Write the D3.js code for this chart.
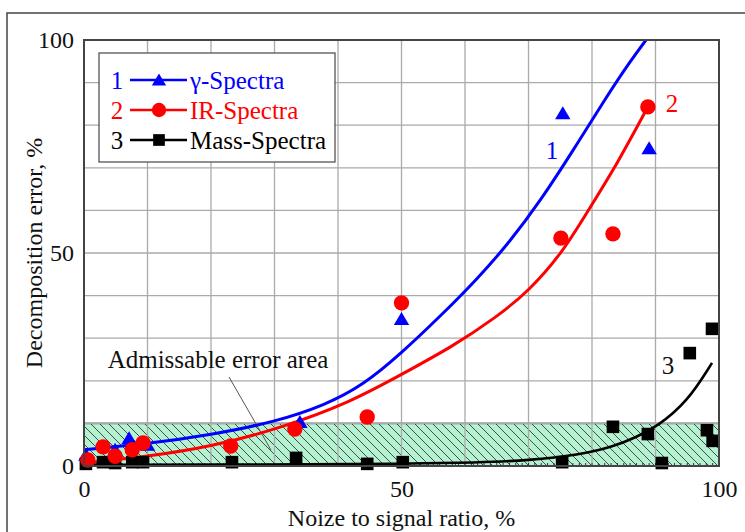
<!DOCTYPE html>
<html>
<head>
<meta charset="utf-8">
<script src="https://cdn.jsdelivr.net/npm/d3@7"></script>
<style>
  body { margin: 0; background: #fff; }
  text { font-family: "Liberation Serif", "Times New Roman", serif; }
</style>
</head>
<body>
<div id="chart"></div>
<script>
// scatter points: [noise %, error %]
var gammaPoints = [[0.3, 2.6], [4.9, 3.8], [7.1, 6.5], [10, 5], [34, 10.3], [50, 34.5], [75.4, 82.8], [89, 74.6]];
var irPoints = [[0.6, 1.4], [3, 4.5], [4.9, 2.3], [7.6, 3.8], [9.3, 5.4], [23.1, 4.7], [33.2, 8.7], [44.6, 11.5],
                [50, 38.3], [75.1, 53.5], [83.3, 54.5], [88.8, 84.3]];
var massPoints = [[0.3, 0.5], [3, 0.9], [4.9, 0.7], [7.6, 0.9], [9.3, 0.9], [23.3, 0.9], [33.4, 1.9], [44.6, 0.5],
                  [50.2, 0.9], [75.3, 0.9], [83.3, 9.2], [88.8, 7.5], [91, 0.7], [95.4, 26.5], [98.1, 8.4],
                  [99, 5.9], [98.9, 32.2]];

// fitted curves, traced point by point
var gammaCurve = [[0, 3.8], [10, 5.2], [20, 7.3], [30, 10.3], [38, 14.3], [44, 19], [50, 26.5], [56, 35],
                  [62, 44], [67, 52.5], [72, 62.5], [77, 74], [82, 86], [86, 95], [89, 101]];
var irCurve = [[0, 0.7], [10, 2.2], [20, 4.5], [31, 8.9], [42, 15], [50, 21.5], [58, 28], [65, 35], [70, 41],
               [75.3, 50], [79.4, 60], [84, 71], [88.8, 84.3]];
var massCurve = [[0, 0.3], [30, 0.3], [50, 0.5], [62, 0.8], [70, 1.3], [78, 2.6], [83.3, 4.5], [87, 6.8],
                 [90.2, 9.2], [95, 15], [98.9, 24.2]];

var xTicks = [0, 50, 100];
var yTicks = [0, 50, 100];
var admissableLimit = 10;

var legendItems = [
    {num: '1', name: '\u03b3-Spectra', color: '#0000ff', shape: 'triangle'},
    {num: '2', name: 'IR-Spectra', color: '#ff0000', shape: 'circle'},
    {num: '3', name: 'Mass-Spectra', color: '#000000', shape: 'square'}
];

var width = 745,
    height = 532,
    margin = {left: 84, right: 26, top: 40, bottom: 66},
    serif = '"Liberation Serif", "Times New Roman", serif';

var svg = d3.select('#chart')
    .append('svg')
    .attr('width', width)
    .attr('height', height);

// outer frame
svg.append('rect')
    .attr('x', 7).attr('y', 13)
    .attr('width', width + 10).attr('height', height + 10)
    .style('fill', 'none')
    .style('stroke', '#444')
    .style('stroke-width', 1.5);

var x = d3.scaleLinear().domain([0, 100]).range([margin.left, width - margin.right]);
var y = d3.scaleLinear().domain([0, 100]).range([height - margin.bottom, margin.top]);

// hatch pattern for the admissable area
var defs = svg.append('defs');
defs.append('pattern')
    .attr('id', 'hatch')
    .attr('patternUnits', 'userSpaceOnUse')
    .attr('width', 9).attr('height', 9)
  .append('path')
    .attr('d', 'M0,0L9,9M-3,6L3,12M6,-3L12,3')
    .style('stroke', '#3a3a3a')
    .style('stroke-width', 0.9);

svg.append('rect')
    .attr('x', x(0)).attr('y', y(admissableLimit))
    .attr('width', x(100) - x(0)).attr('height', y(0) - y(admissableLimit))
    .style('fill', '#b4f2d2');
svg.append('rect')
    .attr('x', x(0)).attr('y', y(admissableLimit))
    .attr('width', x(100) - x(0)).attr('height', y(0) - y(admissableLimit))
    .style('fill', 'url(#hatch)')
    .style('stroke', '#333')
    .style('stroke-width', 1.5);

// grid
var gridVals = d3.range(10, 100, 10);
svg.append('g').selectAll('line').data(gridVals).enter().append('line')
    .attr('x1', function (d) { return x(d); }).attr('x2', function (d) { return x(d); })
    .attr('y1', y(0)).attr('y2', y(100))
    .style('stroke', '#aaa').style('stroke-width', 1.3);
svg.append('g').selectAll('line').data(gridVals).enter().append('line')
    .attr('x1', x(0)).attr('x2', x(100))
    .attr('y1', function (d) { return y(d); }).attr('y2', function (d) { return y(d); })
    .style('stroke', '#aaa').style('stroke-width', 1.3);

// minor ticks along the bottom
svg.append('g').selectAll('line').data(d3.range(1, 100, 1)).enter().append('line')
    .attr('x1', function (d) { return x(d); }).attr('x2', function (d) { return x(d); })
    .attr('y1', y(0)).attr('y2', y(0) - 3)
    .style('stroke', '#333').style('stroke-width', 1);

// tick labels via d3 axes
var xAxis = svg.append('g')
    .attr('transform', 'translate(0,' + y(0) + ')')
    .call(d3.axisBottom(x).tickValues(xTicks).tickSize(0).tickPadding(14));
var yAxis = svg.append('g')
    .attr('transform', 'translate(' + x(0) + ',0)')
    .call(d3.axisLeft(y).tickValues(yTicks).tickSize(0).tickPadding(10));
[xAxis, yAxis].forEach(function (a) {
    a.attr('font-family', serif).attr('font-size', 24);
    a.select('.domain').remove();
    a.selectAll('text').style('fill', '#111');
});

svg.append('text')
    .attr('x', x(50)).attr('y', 526)
    .attr('text-anchor', 'middle')
    .style('font-size', '24px').style('fill', '#111')
    .text('Noize to signal ratio, %');
svg.append('text')
    .attr('transform', 'translate(42,' + y(50) + ') rotate(-90)')
    .attr('text-anchor', 'middle')
    .style('font-size', '24px').style('fill', '#111')
    .text('Decomposition error, %');

// annotation
svg.append('line')
    .attr('x1', 229).attr('y1', 377)
    .attr('x2', 271).attr('y2', 450)
    .style('stroke', '#555').style('stroke-width', 1);
svg.append('text')
    .attr('x', 218).attr('y', 368)
    .attr('text-anchor', 'middle')
    .style('font-size', '25px').style('fill', '#111')
    .text('Admissable error area');

// curves
var line = d3.line()
    .x(function (d) { return x(d[0]); })
    .y(function (d) { return y(d[1]); })
    .curve(d3.curveBasis);

var clip = defs.append('clipPath').attr('id', 'plotclip');
clip.append('rect')
    .attr('x', x(0)).attr('y', y(100))
    .attr('width', x(100) - x(0)).attr('height', y(0) - y(100));

var curves = svg.append('g').attr('clip-path', 'url(#plotclip)');
[[gammaCurve, '#0000ff', 3], [irCurve, '#ff0000', 3], [massCurve, '#000', 2.6]].forEach(function (c) {
    curves.append('path')
        .attr('d', line(c[0]))
        .style('fill', 'none')
        .style('stroke', c[1])
        .style('stroke-width', c[2]);
});

// markers
function marker(sel, shape, color, size) {
    if (shape === 'circle') {
        sel.append('circle').attr('r', size * 0.55).style('fill', color);
    } else if (shape === 'square') {
        sel.append('rect')
            .attr('x', -size * 0.45).attr('y', -size * 0.45)
            .attr('width', size * 0.9).attr('height', size * 0.9)
            .style('fill', color);
    } else {
        var h = size * 0.5;
        sel.append('path')
            .attr('d', 'M0,' + (-h) + 'L' + h * 1.1 + ',' + h * 0.85 + 'L' + (-h * 1.1) + ',' + h * 0.85 + 'Z')
            .style('fill', color);
    }
}

var markers = svg.append('g');
[[massPoints, 'square', '#000'], [gammaPoints, 'triangle', '#0000ff'], [irPoints, 'circle', '#ff0000']].forEach(function (s) {
    markers.selectAll(null).data(s[0]).enter().append('g')
        .attr('transform', function (d) { return 'translate(' + x(d[0]) + ',' + y(d[1]) + ')'; })
        .each(function () { marker(d3.select(this), s[1], s[2], 14); });
});

// curve numbers
svg.append('text').attr('x', 552).attr('y', 159).attr('text-anchor', 'middle')
    .style('font-size', '25px').style('fill', '#0000ff').text('1');
svg.append('text').attr('x', 672).attr('y', 112).attr('text-anchor', 'middle')
    .style('font-size', '25px').style('fill', '#ff0000').text('2');
svg.append('text').attr('x', 668).attr('y', 374).attr('text-anchor', 'middle')
    .style('font-size', '25px').style('fill', '#111').text('3');

// plot frame
svg.append('rect')
    .attr('x', x(0)).attr('y', y(100))
    .attr('width', x(100) - x(0)).attr('height', y(0) - y(100))
    .style('fill', 'none')
    .style('stroke', '#444')
    .style('stroke-width', 2);

// legend
var legend = svg.append('g');
legend.append('rect')
    .attr('x', 99).attr('y', 53)
    .attr('width', 236).attr('height', 109)
    .style('fill', '#fff')
    .style('stroke', '#555')
    .style('stroke-width', 1.3);
var rows = legend.selectAll('g.row').data(legendItems).enter().append('g')
    .attr('transform', function (d, i) { return 'translate(0,' + (80 + i * 30) + ')'; });
rows.append('text')
    .attr('x', 117).attr('y', 9)
    .attr('text-anchor', 'middle')
    .style('font-size', '25px')
    .style('fill', function (d) { return d.color; })
    .text(function (d) { return d.num; });
rows.append('line')
    .attr('x1', 130).attr('x2', 187)
    .style('stroke', function (d) { return d.color; })
    .style('stroke-width', 2.5);
rows.each(function (d) {
    var g = d3.select(this).append('g').attr('transform', 'translate(159,0)');
    marker(g, d.shape, d.color, 13);
});
rows.append('text')
    .attr('x', 190).attr('y', 9)
    .style('font-size', '25px')
    .style('fill', function (d) { return d.color; })
    .text(function (d) { return d.name; });
</script>
</body>
</html>
